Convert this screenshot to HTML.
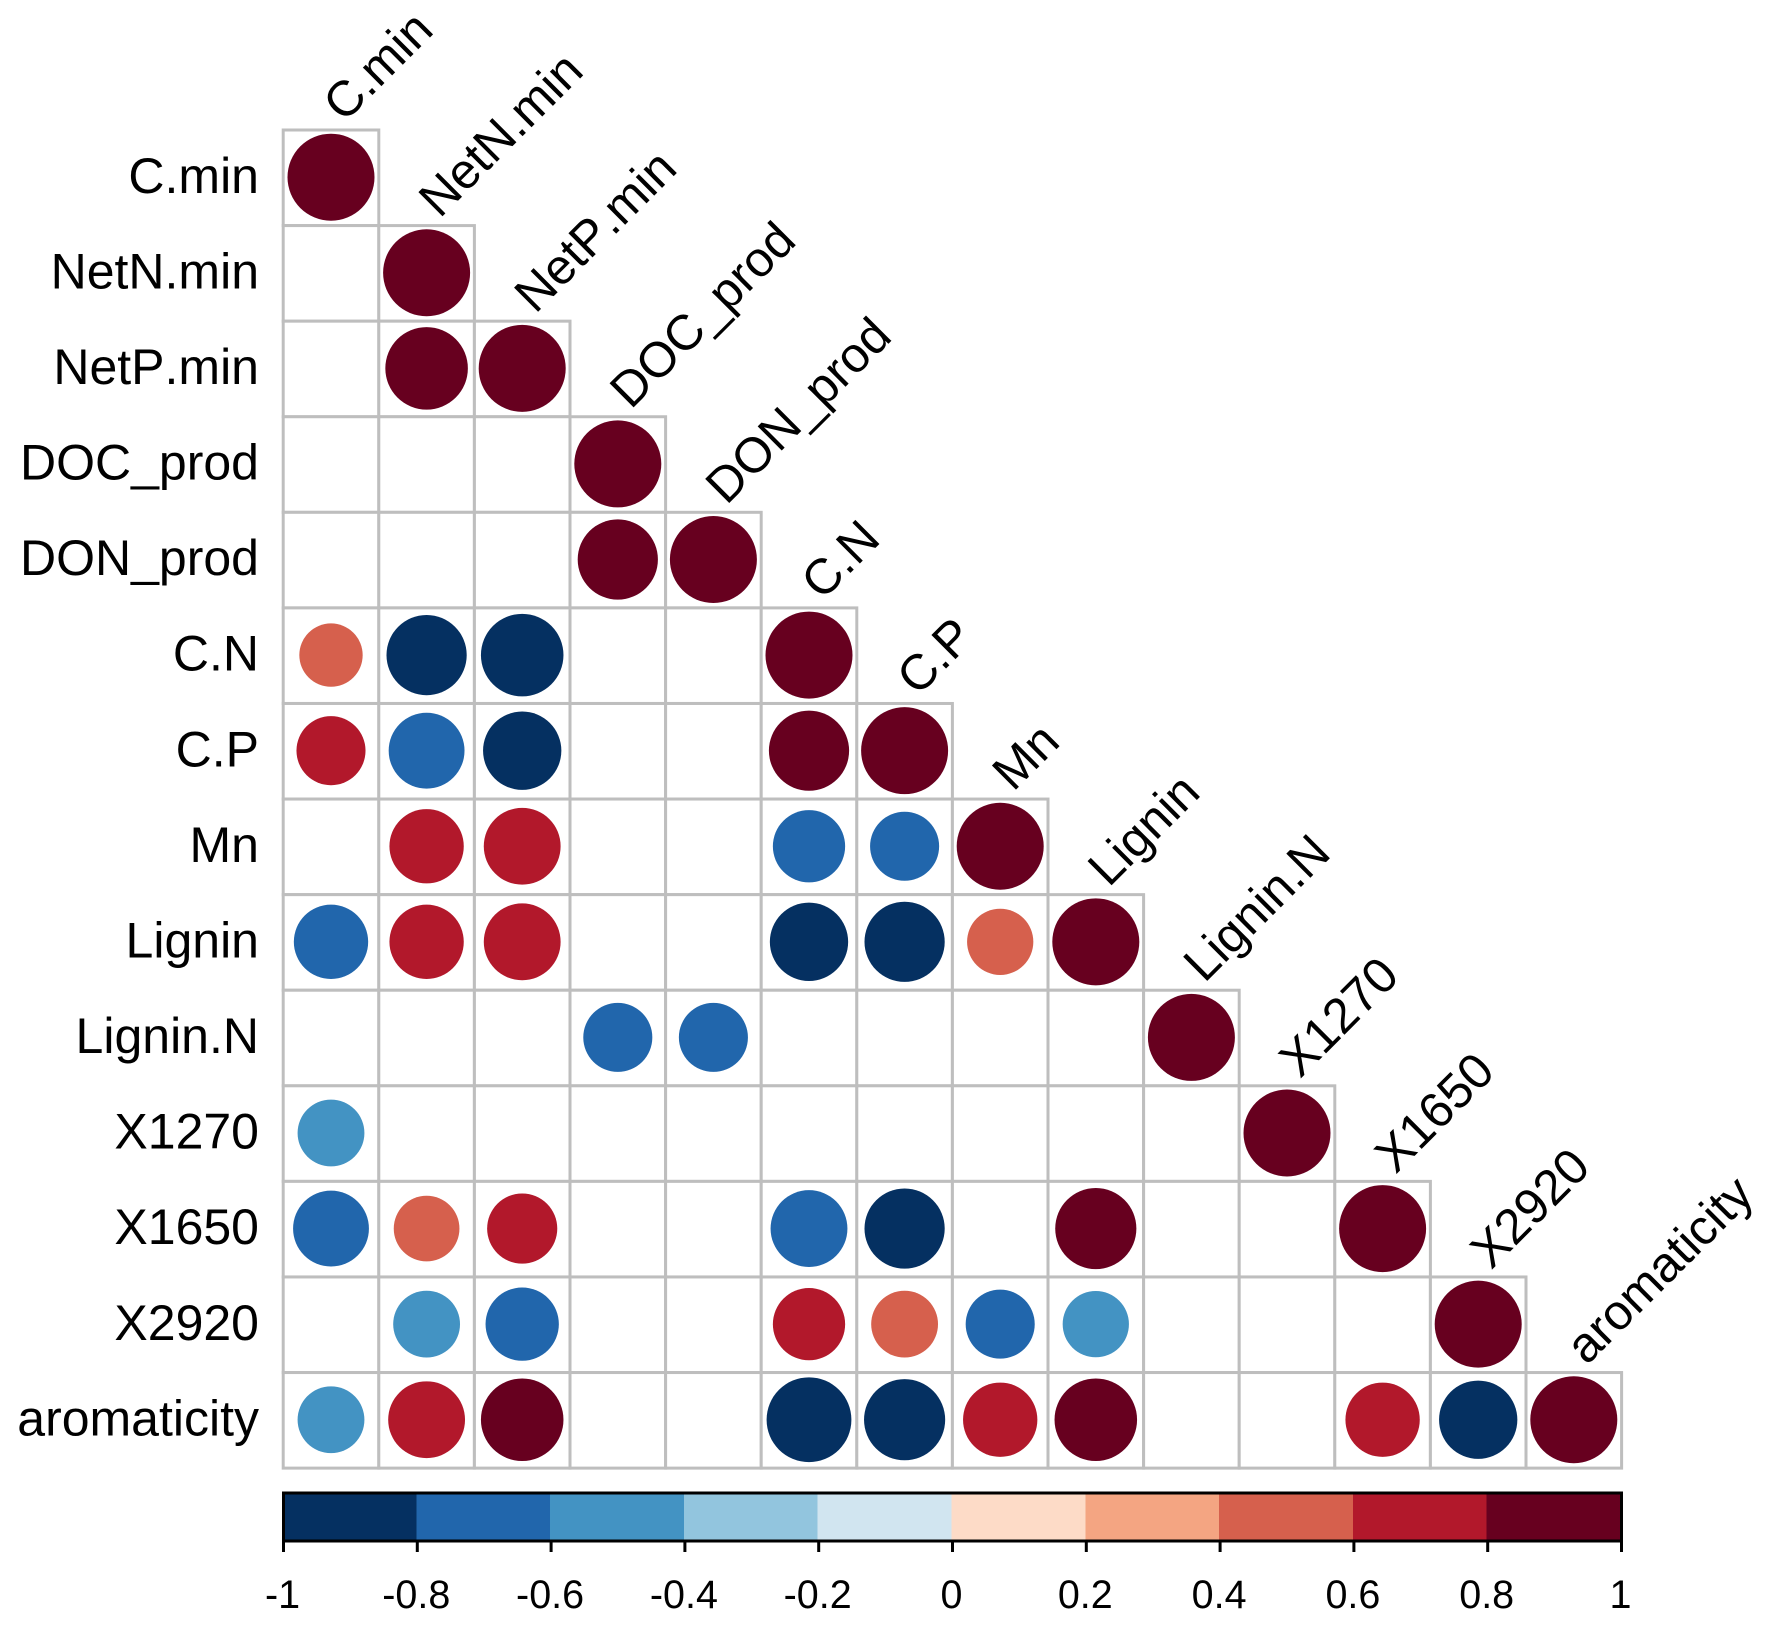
<!DOCTYPE html>
<html lang="en">
<head>
<meta charset="utf-8">
<title>Correlation plot</title>
<style>
html,body{margin:0;padding:0;background:#fff;}
#chart{display:block;width:1768px;height:1626px;font-family:"Liberation Sans",Arial,sans-serif;font-kerning:none;}
#chart text{font-kerning:none;}
</style>
</head>
<body>
<svg id="chart" xmlns="http://www.w3.org/2000/svg" width="1768" height="1626" viewBox="0 0 1768 1626"></svg>
<script>
const variables = ["C.min","NetN.min","NetP.min","DOC_prod","DON_prod","C.N","C.P","Mn","Lignin","Lignin.N","X1270","X1650","X2920","aromaticity"];
const corrRows = [
  [1],
  [null,1],
  [null,0.90,1],
  [null,null,null,1],
  [null,null,null,0.85,1],
  [0.53,-0.85,-0.90,null,null,1],
  [0.63,-0.76,-0.81,null,null,0.85,1],
  [null,0.73,0.78,null,null,-0.69,-0.63,1],
  [-0.73,0.73,0.78,null,null,-0.81,-0.85,0.58,1],
  [null,null,null,-0.63,-0.63,null,null,null,null,1],
  [-0.59,null,null,null,null,null,null,null,null,null,1],
  [-0.76,0.57,0.65,null,null,-0.78,-0.85,null,0.87,null,null,1],
  [null,-0.59,-0.71,null,null,0.69,0.59,-0.63,-0.58,null,null,null,1],
  [-0.59,0.78,0.90,null,null,-0.95,-0.87,0.73,0.90,null,null,0.73,-0.81,1]
];
const paletteColors = ["#053061","#2166AC","#4393C3","#92C5DE","#D1E5F0","#FDDBC7","#F4A582","#D6604D","#B2182B","#67001F"];
const colorbarTicks = [-1,-0.8,-0.6,-0.4,-0.2,0,0.2,0.4,0.6,0.8,1];

const SVGNS = "http://www.w3.org/2000/svg";
const svg = document.getElementById("chart");
const GRID = {left:283.2, top:130, cellW:95.6, cellH:95.58};
const BAR = {left:283.5, right:1621.5, top:1493, bottom:1541, tickEnd:1552, labelY:1608};

function xEdge(i){ return GRID.left + i*GRID.cellW; }
function yEdge(i){ return GRID.top + i*GRID.cellH; }
function xCenter(i){ return xEdge(i) + GRID.cellW/2; }
function yCenter(i){ return yEdge(i) + GRID.cellH/2; }
function radius(v){ return 0.455*GRID.cellW*Math.sqrt(Math.abs(v)); }
function barX(v){ return BAR.left + (v+1)/2*(BAR.right-BAR.left); }
function colorOf(v){
  const idx = Math.min(paletteColors.length-1, Math.max(0, Math.floor((v+1)/2*paletteColors.length)));
  return paletteColors[idx];
}
function make(tag, attrs){
  const el = document.createElementNS(SVGNS, tag);
  for (const k in attrs) el.setAttribute(k, attrs[k]);
  return el;
}

// grid cells
corrRows.forEach(function(row, r){
  row.forEach(function(v, c){
    const cell = make("rect",{x:xEdge(c),y:yEdge(r),width:GRID.cellW,height:GRID.cellH,fill:"#fff",stroke:"#BEBEBE","stroke-width":3});
    
    
    svg.appendChild(cell);
  });
});

// circles
corrRows.forEach(function(row, r){
  row.forEach(function(v, c){
    if (v === null) return;
    const dot = make("circle",{cx:xCenter(c),cy:yCenter(r)-0.6,r:radius(v),fill:colorOf(v)});
    
    
    const tip = make("title",{});
    tip.textContent = variables[r] + " / " + variables[c] + ": " + v;
    dot.appendChild(tip);
    svg.appendChild(dot);
  });
});

// row labels
variables.forEach(function(name, r){
  const t = make("text",{x:259,y:yCenter(r)+15,"text-anchor":"end","font-size":50,fill:"#000"});
  
  
  t.textContent = name;
  svg.appendChild(t);
});

// column labels
variables.forEach(function(name, c){
  const px = xCenter(c)+13, py = yEdge(c)-6.5;
  const t = make("text",{x:px,y:py,"font-size":49.5,fill:"#000",transform:"rotate(-45 "+px+" "+py+")"});
  
  
  t.textContent = name;
  svg.appendChild(t);
});

// colorbar segments
paletteColors.forEach(function(col, i){
  const from = -1 + i*2/paletteColors.length;
  const to = -1 + (i+1)*2/paletteColors.length;
  const seg = make("rect",{x:barX(from)-1,y:BAR.top,width:barX(to)-barX(from),height:BAR.bottom-BAR.top,fill:col,"shape-rendering":"crispEdges"});
  
  
  svg.appendChild(seg);
});
const outline = make("rect",{x:BAR.left,y:BAR.top,width:BAR.right-BAR.left,height:BAR.bottom-BAR.top,fill:"none",stroke:"#000","stroke-width":3});


svg.appendChild(outline);

// colorbar ticks and labels
colorbarTicks.forEach(function(v){
  const tick = make("line",{x1:barX(v),x2:barX(v),y1:BAR.bottom,y2:BAR.tickEnd,stroke:"#000","stroke-width":3});
  
  
  svg.appendChild(tick);
  const t = make("text",{x:barX(v)-1,y:BAR.labelY,"text-anchor":"middle","font-size":39.5,fill:"#000"});
  
  
  t.textContent = String(v);
  svg.appendChild(t);
});
</script>
</body>
</html>
